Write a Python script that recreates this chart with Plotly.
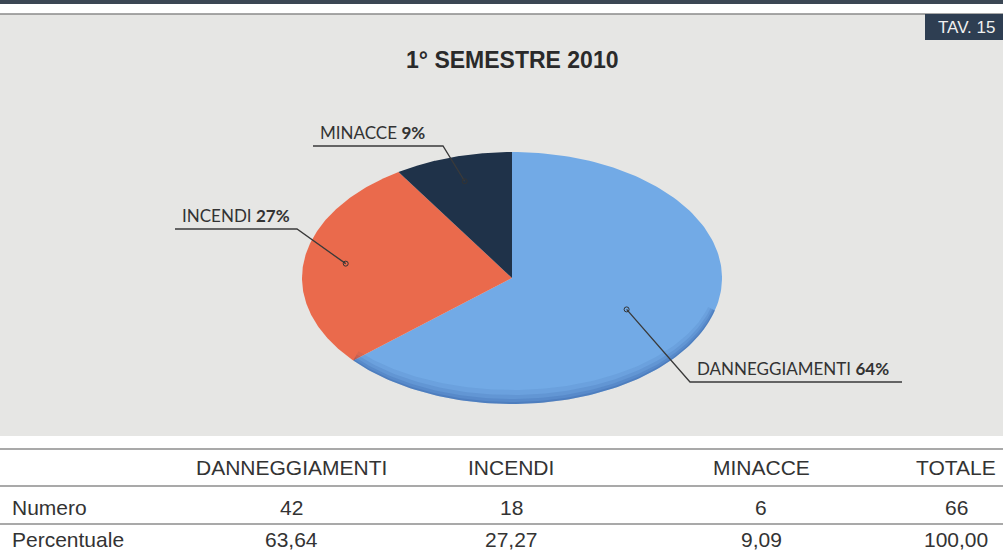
import numpy as np
import plotly.graph_objects as go

# ---- data ----
categories = ["DANNEGGIAMENTI", "INCENDI", "MINACCE"]
numbers = [42, 18, 6]
percent_labels = ["63,64", "27,27", "9,09"]
total_number = 66
total_percent = "100,00"
slice_colors = ["#72aae6", "#ea6a4c", "#1f3249"]
title_text = "1° SEMESTRE 2010"
tav_text = "TAV. 15"

W, H = 1003, 554
fig = go.Figure()

# ---- elliptical pie (3D tilted look) computed from values ----
cx, cy, rx, ry = 512, 278, 210, 126
total = sum(numbers)
fracs = [n / total for n in numbers]
start = 0.0
mids, bounds = [], []
for cat, f, col in zip(categories, fracs, slice_colors):
    end = start + f * 360
    th = np.radians(np.linspace(start, end, 160))
    xs = np.concatenate([[cx], cx + rx * np.sin(th), [cx]])
    ys = np.concatenate([[cy], cy - ry * np.cos(th), [cy]])
    fig.add_trace(go.Scatter(x=xs, y=ys, fill="toself", fillcolor=col,
                             mode="lines", line=dict(width=0, color=col),
                             hoverinfo="text", text=cat, showlegend=False))
    mids.append((start + end) / 2)
    bounds.append((start, end))
    start = end

# darker shading inside the lower edge of the first slice for a 3D feel
b0, b1 = bounds[0]
th = np.radians(np.linspace(105, b1, 120))
for off, alpha in [(14, 0.08), (9, 0.10), (5, 0.12), (2, 0.14)]:
    ox = cx + rx * np.sin(th)
    oy = cy - ry * np.cos(th)
    ix = cx + (rx - off * 0.5) * np.sin(th[::-1])
    iy = cy - (ry - off) * np.cos(th[::-1])
    fig.add_trace(go.Scatter(x=np.concatenate([ox, ix]), y=np.concatenate([oy, iy]),
                             fill="toself", fillcolor=f"rgba(20,60,130,{alpha})",
                             mode="lines", line=dict(width=0),
                             hoverinfo="skip", showlegend=False))

# ---- slice labels with leader lines ----
pcts = [round(f * 100) for f in fracs]
dot_r = [0.6, 0.8, 0.8]
label_pos = [  # (underline start x, underline end x, underline y, elbow side)
    (690, 902, 382, "left"),
    (175, 297, 229, "right"),
    (313, 443, 146, "right"),
]
for i, cat in enumerate(categories):
    a = np.radians(mids[i])
    dx = cx + dot_r[i] * rx * np.sin(a)
    dy = cy - dot_r[i] * ry * np.cos(a)
    x0, x1, yl, side = label_pos[i]
    ex = x0 if side == "left" else x1
    fig.add_trace(go.Scatter(x=[dx, ex, x1 if side == "left" else x0],
                             y=[dy, yl, yl], mode="lines",
                             line=dict(color="#3a3a3a", width=1.3),
                             hoverinfo="skip", showlegend=False))
    fig.add_trace(go.Scatter(x=[dx], y=[dy], mode="markers",
                             marker=dict(size=5, color="rgba(0,0,0,0)",
                                         line=dict(color="#333", width=1)),
                             hoverinfo="skip", showlegend=False))
    fig.add_annotation(x=x0 + 5, y=yl - 1, xref="x", yref="y",
                       text=f"{cat} <b>{pcts[i]}%</b>", showarrow=False,
                       xanchor="left", yanchor="bottom",
                       font=dict(family="Lato, Liberation Sans", size=17, color="#333"))

# ---- title and TAV box ----
fig.add_annotation(x=512, y=60, xref="x", yref="y", text=f"<b>{title_text}</b>",
                   showarrow=False, font=dict(family="Liberation Sans", size=23, color="#2a2a2a"))
fig.add_annotation(x=966, y=27, xref="x", yref="y", text=tav_text, showarrow=False,
                   font=dict(family="Liberation Sans", size=17, color="#f0f0f0"))

# ---- table ----
col_x = [291, 511, 761, 956]
header = categories + ["TOTALE"]
row_labels = ["Numero", "Percentuale"]
row_vals = [[str(n) for n in numbers] + [str(total_number)],
            percent_labels + [total_percent]]
row_y = [467, 507, 539]
tfont = dict(family="Liberation Sans", size=21, color="#333")
for x, h in zip(col_x, header):
    fig.add_annotation(x=x, y=row_y[0], xref="x", yref="y", text=h,
                       showarrow=False, font=tfont)
for r, (lab, vals) in enumerate(zip(row_labels, row_vals)):
    y = row_y[r + 1]
    fig.add_annotation(x=10, y=y, xref="x", yref="y", text=lab, xanchor="left",
                       showarrow=False, font=tfont)
    for x, v in zip(col_x, vals):
        fig.add_annotation(x=x, y=y, xref="x", yref="y", text=v,
                           showarrow=False, font=tfont)

shapes = [
    dict(type="rect", x0=0, x1=W, y0=0, y1=4, fillcolor="#3b4754", line_width=0, layer="below"),
    dict(type="rect", x0=0, x1=W, y0=14, y1=436, fillcolor="#e6e6e4", line_width=0, layer="below"),
    dict(type="line", x0=0, x1=W, y0=14, y1=14, line=dict(color="#8a8a8a", width=1.5), layer="below"),
    dict(type="rect", x0=925, x1=W, y0=14, y1=40, fillcolor="#2e3e52", line_width=0, layer="below"),
]
for yl in [449, 486, 524]:
    shapes.append(dict(type="line", x0=0, x1=W, y0=yl, y1=yl,
                       line=dict(color="#8c8c8c", width=1.5), layer="below"))

fig.update_layout(
    width=W, height=H, margin=dict(l=0, r=0, t=0, b=0),
    paper_bgcolor="white", plot_bgcolor="white",
    xaxis=dict(range=[0, W], visible=False, fixedrange=True),
    yaxis=dict(range=[H, 0], visible=False, fixedrange=True),
    shapes=shapes, showlegend=False,
)
fig.write_html("out.html", config={"displayModeBar": False},
               post_script="document.body.style.margin='0';document.body.style.overflow='hidden';")
